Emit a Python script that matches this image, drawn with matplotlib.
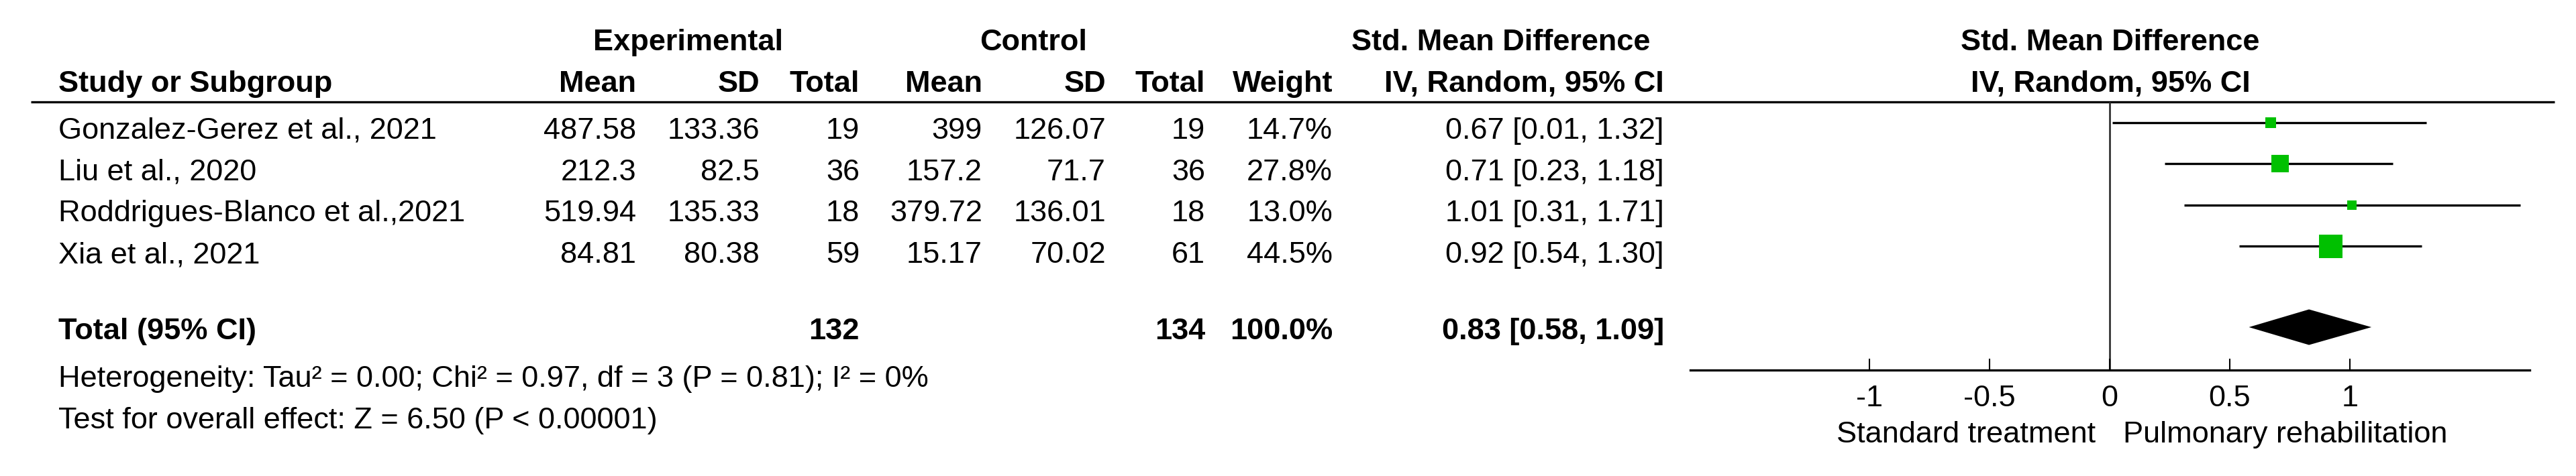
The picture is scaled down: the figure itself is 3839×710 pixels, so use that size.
import matplotlib
matplotlib.use("Agg")
import matplotlib.pyplot as plt

plt.rcParams['font.family'] = ['Liberation Sans', 'DejaVu Sans']

# ---------------- data ----------------
studies = ["Gonzalez-Gerez et al., 2021", "Liu et al., 2020",
           "Roddrigues-Blanco et al.,2021", "Xia et al., 2021"]
exp_mean = [487.58, 212.3, 519.94, 84.81]
exp_sd = [133.36, 82.5, 135.33, 80.38]
exp_n = [19, 36, 18, 59]
ctl_mean = [399, 157.2, 379.72, 15.17]
ctl_sd = [126.07, 71.7, 136.01, 70.02]
ctl_n = [19, 36, 18, 61]
weights = [14.7, 27.8, 13.0, 44.5]
smd = [0.67, 0.71, 1.01, 0.92]
ci_lo = [0.01, 0.23, 0.31, 0.54]
ci_hi = [1.32, 1.18, 1.71, 1.30]

total_exp_n = 132
total_ctl_n = 134
total_weight = 100.0
total_smd = 0.83
total_lo = 0.58
total_hi = 1.09

heterogeneity = "Heterogeneity: Tau\u00b2 = 0.00; Chi\u00b2 = 0.97, df = 3 (P = 0.81); I\u00b2 = 0%"
overall = "Test for overall effect: Z = 6.50 (P < 0.00001)"
xticks = [-1, -0.5, 0, 0.5, 1]
xticklabels = ["-1", "-0.5", "0", "0.5", "1"]
left_label = "Standard treatment"
right_label = "Pulmonary rehabilitation"

# ---------------- layout ----------------
W, H = 3839, 710
FS = 32.5
fig = plt.figure(figsize=(W / 100, H / 100), dpi=100)
ax = fig.add_axes([0, 0, 1, 1])
ax.set_xlim(0, W)
ax.set_ylim(H, 0)
ax.axis('off')

row_base = [207, 269, 330, 392]
row_mark = [183, 244, 306, 367]
total_base = 506
total_mark = 488
x_name = 87
col_right = {'em': 948, 'esd': 1132, 'en': 1281, 'cm': 1464, 'csd': 1648,
             'cn': 1796, 'w': 1986, 'ci': 2480}

def t(x, y, s, ha='left', bold=False):
    ax.text(x, y, s, ha=ha, va='baseline', fontsize=FS,
            fontweight='bold' if bold else 'normal', color='black')

# header
t(1026, 75, "Experimental", 'center', True)
t(1540, 75, "Control", 'center', True)
t(2237, 75, "Std. Mean Difference", 'center', True)
t(3145, 75, "Std. Mean Difference", 'center', True)
t(x_name, 137, "Study or Subgroup", 'left', True)
for key, lab in [('em', 'Mean'), ('esd', 'SD'), ('en', 'Total'), ('cm', 'Mean'),
                 ('csd', 'SD'), ('cn', 'Total'), ('w', 'Weight'),
                 ('ci', 'IV, Random, 95% CI')]:
    t(col_right[key], 137, lab, 'right', True)
t(3145, 137, "IV, Random, 95% CI", 'center', True)
ax.hlines(152, 46, 3807, color='black', linewidth=2.4)

# rows
for i, name in enumerate(studies):
    y = row_base[i]
    t(x_name, y, name)
    t(col_right['em'], y, f"{exp_mean[i]}", 'right')
    t(col_right['esd'], y, f"{exp_sd[i]}", 'right')
    t(col_right['en'], y, f"{exp_n[i]}", 'right')
    t(col_right['cm'], y, f"{ctl_mean[i]}", 'right')
    t(col_right['csd'], y, f"{ctl_sd[i]}", 'right')
    t(col_right['cn'], y, f"{ctl_n[i]}", 'right')
    t(col_right['w'], y, f"{weights[i]:.1f}%", 'right')
    t(col_right['ci'], y, f"{smd[i]:.2f} [{ci_lo[i]:.2f}, {ci_hi[i]:.2f}]", 'right')

# total
t(x_name, total_base, "Total (95% CI)", 'left', True)
t(col_right['en'], total_base, f"{total_exp_n}", 'right', True)
t(col_right['cn'], total_base, f"{total_ctl_n}", 'right', True)
t(col_right['w'], total_base, f"{total_weight:.1f}%", 'right', True)
t(col_right['ci'], total_base, f"{total_smd:.2f} [{total_lo:.2f}, {total_hi:.2f}]", 'right', True)
t(x_name, 577, heterogeneity)
t(x_name, 639, overall)

# ---------------- forest ----------------
x0, x1 = 2519, 3770
fax = fig.add_axes([x0 / W, 0, (x1 - x0) / W, 1])
fax.set_xlim(-1.746, 1.749)
fax.set_ylim(H, 0)
fax.patch.set_visible(False)
for s in ['left', 'right', 'top']:
    fax.spines[s].set_visible(False)
fax.spines['bottom'].set_position(('data', 552))
fax.spines['bottom'].set_linewidth(2.4)
fax.set_yticks([])
fax.set_xticks(xticks)
fax.set_xticklabels(xticklabels)
fax.tick_params(axis='x', direction='in', length=12.2, width=1.5, pad=15.5,
                labelsize=FS, colors='black')

fax.vlines(0, 152, 552, color='#333333', linewidth=2.0, zorder=1)
for i in range(len(studies)):
    fax.hlines(row_mark[i], ci_lo[i], ci_hi[i], color='black', linewidth=2.4, zorder=2)
    side_px = 35 * (weights[i] / max(weights)) ** 0.69
    fax.scatter([smd[i]], [row_mark[i]], s=(side_px * 0.72) ** 2, marker='s',
                color='#00C000', linewidths=0, zorder=3)

fax.fill([total_lo, total_smd, total_hi, total_smd],
         [total_mark, total_mark - 26.5, total_mark, total_mark + 26.5],
         color='black', linewidth=0, zorder=3)

fax.text(-0.058, 660, left_label, ha='right', va='baseline', fontsize=FS)
fax.text(0.056, 660, right_label, ha='left', va='baseline', fontsize=FS)

fig.savefig("out.png", dpi=100, facecolor='white')
